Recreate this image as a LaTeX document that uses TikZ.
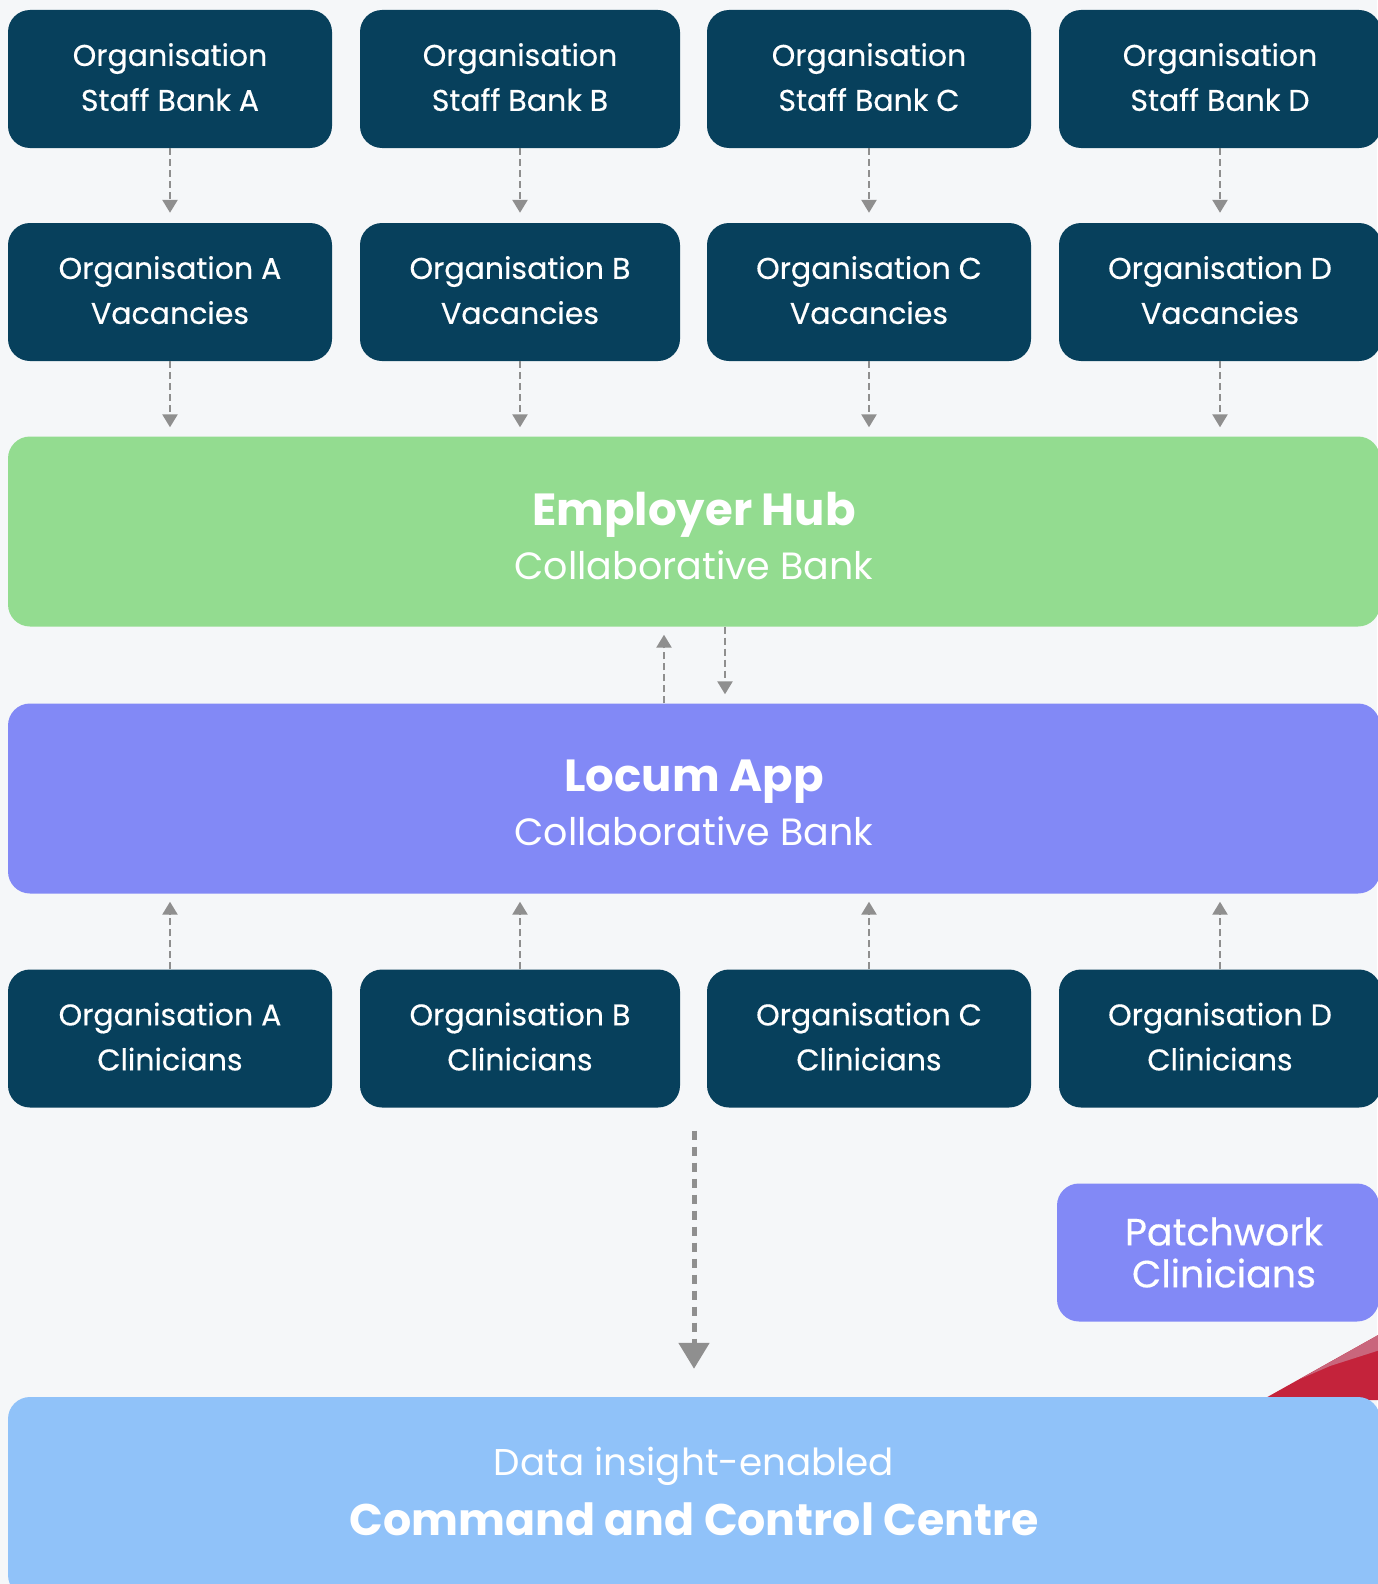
\documentclass[tikz,border=0pt]{standalone}
\usepackage{fontspec}
\setmainfont{Poppins}
\newfontfamily\medfont{Poppins}[FakeBold=0.35]
\usetikzlibrary{arrows.meta,calc}
\definecolor{bgc}{HTML}{F5F7F9}
\definecolor{navy}{HTML}{07405C}
\definecolor{hubgreen}{HTML}{93DC90}
\definecolor{locum}{HTML}{8289F6}
\definecolor{cmdblue}{HTML}{90C2F9}
\definecolor{arrowgray}{HTML}{8F8F8F}
\definecolor{swoosh}{HTML}{C4233B}
\definecolor{swooshlight}{HTML}{C9667C}
\tikzset{
  orgbox/.style={fill=navy, text=white, rounded corners=22pt, minimum height=138pt,
    align=center, font=\medfont\fontsize{30}{45}\selectfont, inner sep=0pt,
    text depth=4pt},
  bigbox/.style={rounded corners=22pt, minimum width=1372pt, minimum height=190pt,
    align=center, text=white, inner sep=0pt, font=\fontsize{38}{54}\selectfont},
  dasharrow/.style={draw=arrowgray, line width=2.5pt, dash pattern=on 7pt off 4pt,
    -{Triangle[length=13pt,width=15pt]}},
  bigarrow/.style={draw=arrowgray, line width=5pt, dash pattern=on 9pt off 7pt,
    -{Triangle[length=26pt,width=30pt]}}
}
\begin{document}
\begin{tikzpicture}[x=1pt,y=-1pt]
\fill[bgc] (0,0) rectangle (1377,1584);
\useasboundingbox (0,0) rectangle (1377,1584);
% top row
\node[orgbox, minimum width=324pt] (sA) at (170,79) {Organisation\\Staff Bank A};
\node[orgbox, minimum width=320pt] (sB) at (520,79) {Organisation\\Staff Bank B};
\node[orgbox, minimum width=324pt] (sC) at (869,79) {Organisation\\Staff Bank C};
\node[orgbox, minimum width=322pt] (sD) at (1220,79) {Organisation\\Staff Bank D};
% vacancies
\node[orgbox, minimum width=324pt] (vA) at (170,292) {Organisation A\\Vacancies};
\node[orgbox, minimum width=320pt] (vB) at (520,292) {Organisation B\\Vacancies};
\node[orgbox, minimum width=324pt] (vC) at (869,292) {Organisation C\\Vacancies};
\node[orgbox, minimum width=322pt] (vD) at (1220,292) {Organisation D\\Vacancies};
% hub
\node[bigbox, fill=hubgreen] (hub) at (694,531.5)
  {\rule{0pt}{42pt}{\fontsize{45}{58}\selectfont\bfseries Employer Hub}\\{\fontsize{38}{52}\selectfont Collaborative Bank}};
% locum
\node[bigbox, fill=locum] (app) at (694,798.5)
  {\rule{0pt}{40pt}{\fontsize{45}{58}\selectfont\bfseries Locum App}\\{\fontsize{38}{52}\selectfont Collaborative Bank}};
% clinicians
\node[orgbox, minimum width=324pt] (cA) at (170,1038.5) {Organisation A\\Clinicians};
\node[orgbox, minimum width=320pt] (cB) at (520,1038.5) {Organisation B\\Clinicians};
\node[orgbox, minimum width=324pt] (cC) at (869,1038.5) {Organisation C\\Clinicians};
\node[orgbox, minimum width=322pt] (cD) at (1220,1038.5) {Organisation D\\Clinicians};
% swoosh
\fill[swoosh] (1262,1400) -- (1380,1334) -- (1380,1400) -- cycle;
\fill[swooshlight] (1300,1379) -- (1380,1334) -- (1380,1350) -- (1330,1366) -- cycle;
% patchwork
\node[fill=locum, text=white, rounded corners=22pt, minimum width=322pt, minimum height=138pt,
  inner sep=0pt, align=center, font=\medfont\fontsize{38}{42}\selectfont] (pw) at (1218,1252.5)
  {\hspace*{12pt}Patchwork\\\hspace*{12pt}Clinicians};
% command
\node[bigbox, fill=cmdblue, minimum height=200pt, font=\fontsize{37}{60}\selectfont,
  text depth=12pt] (cmd) at (694,1497)
  {{\fontsize{37.3}{52}\selectfont Data insight-enabled}\\{\fontsize{44.3}{58}\selectfont\bfseries Command and Control Centre}};
% arrows staff bank -> vacancies
\foreach \n in {A,B,C,D}{
  \draw[dasharrow, shorten >=10pt] (s\n.south) -- (v\n.north);
  \draw[dasharrow, shorten >=9pt] (v\n.south) -- (v\n.south |- hub.north);
  \draw[dasharrow, shorten >=8pt] (c\n.north) -- (c\n.north |- app.south);
}
% hub <-> app
\draw[dasharrow, shorten >=8pt] ($(app.north)+(-30,0)$) -- ($(hub.south)+(-30,0)$);
\draw[dasharrow, shorten >=9pt] ($(hub.south)+(31,0)$) -- ($(app.north)+(31,0)$);
% big arrow
\draw[bigarrow, shorten <=23pt, shorten >=28pt] (cmd.north |- cA.south) -- (cmd.north);
\end{tikzpicture}
\end{document}
